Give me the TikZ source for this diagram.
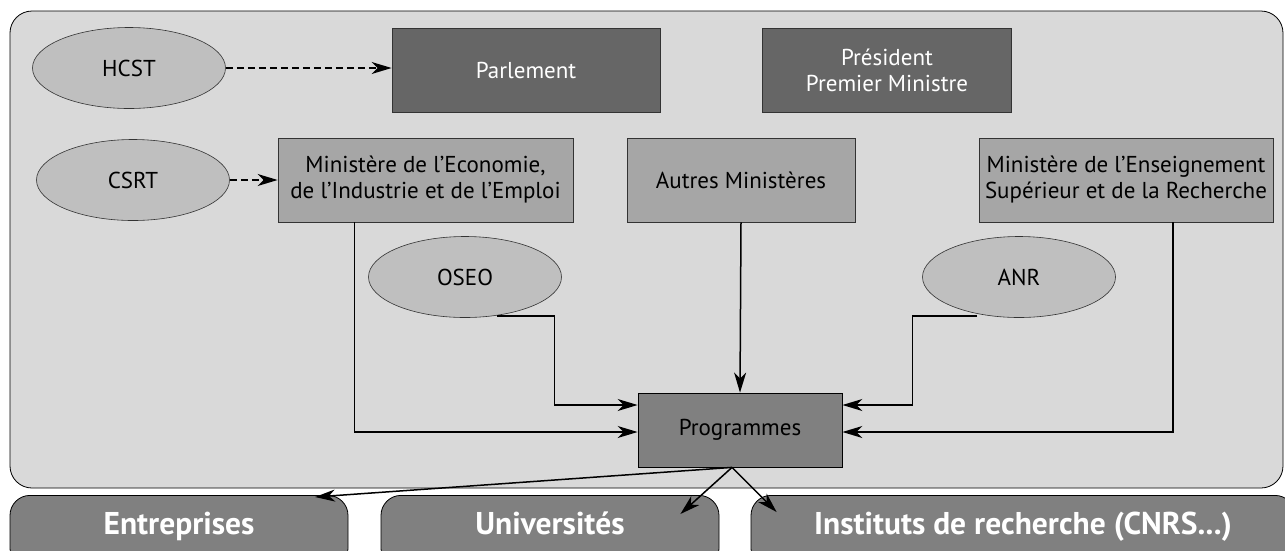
\documentclass[tikz,border=0pt]{standalone}
\usepackage{fontspec}
\setmainfont{PT Sans}
\usetikzlibrary{shapes.geometric,arrows.meta,calc}
\definecolor{bg}{RGB}{217,217,217}
\definecolor{ellf}{RGB}{191,191,191}
\definecolor{darkf}{RGB}{102,102,102}
\definecolor{midf}{RGB}{166,166,166}
\definecolor{progf}{RGB}{128,128,128}
\tikzset{
  txt/.style={font=\fontsize{23}{26}\selectfont},
  ell/.style={txt,ellipse,draw=black!80,line width=0.6pt,fill=ellf,minimum width=193pt,minimum height=81pt,inner sep=0pt},
  darkbox/.style={txt,rectangle,draw=black!80,line width=0.8pt,fill=darkf,text=white,minimum width=#1,minimum height=84pt,inner sep=0pt,align=center},
  midbox/.style={txt,rectangle,draw=black!80,line width=0.8pt,fill=midf,minimum width=#1,minimum height=84pt,inner sep=0pt,align=center},
  progbox/.style={txt,rectangle,draw=black,line width=0.8pt,fill=progf,minimum width=204pt,minimum height=74pt,inner sep=0pt},
  botbox/.style={rectangle,rounded corners=20pt,draw=black,line width=0.8pt,fill=progf,text=white,minimum width=#1,anchor=north,inner xsep=0pt,inner ysep=4pt,text height=35pt,text depth=30pt,font=\bfseries\fontsize{31.5}{34}\selectfont},
  arr/.style={line width=1.5pt,-{Stealth[length=20pt,width=12pt,inset=6pt]}},
  darr/.style={arr,dash pattern=on 7pt off 4pt},
}
\begin{document}
\begin{tikzpicture}[x=1pt,y=-1pt]
\clip (0,0) rectangle (1285,550);
\fill[white] (0,0) rectangle (1285,550);
\draw[fill=bg,line width=0.8pt,rounded corners=22pt] (10,11) rectangle (1283,488);
% nodes
\node[ell] (hcst) at (129,68) {HCST};
\node[ell] (csrt) at (133,180) {CSRT};
\node[darkbox=268pt] (parl) at (526,70) {Parlement};
\node[darkbox=249pt] (pres) at (887,70) {Président\\Premier Ministre};
\node[midbox=295pt] (eco) at (425.5,180) {Ministère de l’Economie,\\de l’Industrie et de l’Emploi};
\node[midbox=228pt] (autres) at (741,180) {Autres Ministères};
\node[midbox=294pt] (ens) at (1126,180) {Ministère de l’Enseignement\\Supérieur et de la Recherche};
\node[ell] (oseo) at (465,277) {OSEO};
\node[ell] (anr) at (1019,277) {ANR};
\node[progbox] (prog) at (740,430) {Programmes};
\node[botbox=338pt] (ent) at (179,495) {Entreprises};
\node[botbox=338pt] (univ) at (550,495) {Universités};
\node[botbox=544pt] (inst) at (1023,495) {Instituts de recherche (CNRS...)};
% dashed arrows
\draw[darr] (hcst.east) -- (parl.west |- hcst.east);
\draw[darr] (csrt.east) -- (eco.west |- csrt.east);
% coordinates
\coordinate (oseoout) at ($(oseo.center)+(32,39)$);
\coordinate (anrout) at ($(anr.center)+(-42,39)$);
\coordinate (ecoout) at ($(eco.south)+(-71,0)$);
\coordinate (ensout) at ($(ens.south)+(47,0)$);
\coordinate (pin1) at ($(prog.west)+(0,-25)$);
\coordinate (pin2) at ($(prog.west)+(0,2)$);
\coordinate (pin3) at ($(prog.east)+(0,-25)$);
\coordinate (pin4) at ($(prog.east)+(0,2)$);
\coordinate (pout) at ($(prog.south)+(-8,0)$);
\coordinate (entin) at ($(ent.north)+(136,2)$);
\coordinate (univin) at ($(univ.north east)+(-39,19)$);
\coordinate (instin) at ($(inst.north west)+(26,17)$);
% solid arrows
\draw[arr] (autres.south) -- (prog.north);
\draw[arr] (oseoout) -| ($(pin1)+(-83,0)$) -- (pin1);
\draw[arr] (anrout) -| ($(pin3)+(70,0)$) -- (pin3);
\draw[arr] (ecoout) |- (pin2);
\draw[arr] (ensout) |- (pin4);
\draw[arr] (pout) -- (entin);
\draw[arr] (pout) -- (univin);
\draw[arr] (pout) -- (instin);
\end{tikzpicture}
\end{document}
